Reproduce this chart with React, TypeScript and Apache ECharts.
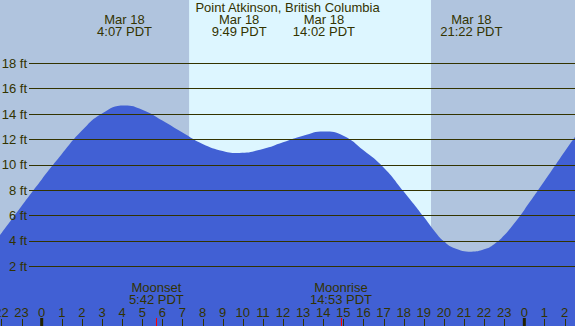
import React, { useEffect, useRef } from "react";
import * as echarts from "echarts";

// Tide height (ft), hours relative to Mar 18 00:00 PDT
const tideHours = [-2.074, -1, 0, 1, 2, 3, 4.117, 5, 6, 7, 8, 9, 9.817, 11, 12, 13, 14.033, 15, 16, 17, 18, 19, 19.5, 20, 20.5, 21.367, 22, 22.5, 23, 23.5, 24, 25, 26, 26.52];
const tideFeet = [4.45, 6.75, 8.85, 10.85, 12.7, 14.05, 14.68, 14.35, 13.5, 12.55, 11.65, 11.1, 10.94, 11.25, 11.78, 12.3, 12.63, 12.3, 11.15, 9.8, 7.9, 5.9, 4.85, 3.97, 3.45, 3.16, 3.34, 3.75, 4.45, 5.4, 6.45, 8.72, 11.04, 12.2];

const extremeHours = [4.117, 9.817, 14.033, 21.367];
const extremeDates = ["Mar 18", "Mar 18", "Mar 18", "Mar 18"];
const extremeTimes = ["4:07 PDT", "9:49 PDT", "14:02 PDT", "21:22 PDT"];

const moonHours = [5.7, 14.883];
const moonNames = ["Moonset", "Moonrise"];
const moonTimes = ["5:42 PDT", "14:53 PDT"];

const sunriseHour = 7.33;
const sunsetHour = 19.36;

const tickHours = [-2, -1, 0, 1, 2, 3, 4, 5, 6, 7, 8, 9, 10, 11, 12, 13, 14, 15, 16, 17, 18, 19, 20, 21, 22, 23, 24, 25, 26];
const tickLabels = ["22", "23", "0", "1", "2", "3", "4", "5", "6", "7", "8", "9", "10", "11", "12", "13", "14", "15", "16", "17", "18", "19", "20", "21", "22", "23", "0", "1", "2"];

const X_MIN = -2.074;
const X_MAX = 26.52;
const Y_MIN = -2.7;
const Y_MAX = 22.99;

const FONT = "'Liberation Sans', Arial, sans-serif";
const TEXT = "#333300";
const NIGHT = "#B0C4DE";
const DAY = "#DDF6FF";
const WATER = "#4160D4";

export default function App() {
  const ref = useRef<HTMLDivElement>(null);
  useEffect(() => {
    document.body.style.margin = "0";
    if (!ref.current) return;
    const chart = echarts.init(ref.current, null, { renderer: "svg" });
    const txt = (text: string, x: number, y: number) => ({
      type: "text",
      x,
      y,
      style: { text, align: "center", verticalAlign: "middle", fontSize: 13, fontFamily: FONT, fill: TEXT },
    });
    chart.setOption({
      animation: false,
      backgroundColor: NIGHT,
      title: {
        text: "Point Atkinson, British Columbia",
        left: "center",
        top: 0,
        padding: [1, 0, 0, 0],
        textStyle: { fontSize: 13, fontWeight: "normal", color: TEXT, fontFamily: FONT },
        z: 20,
      },
      grid: [
        { left: 0, right: 0, top: 0, bottom: 0, outerBoundsMode: "none" },
        { left: 29, right: 0, top: 37.9, bottom: 34.3, outerBoundsMode: "none" },
      ],
      xAxis: [
        { type: "value", gridIndex: 0, min: X_MIN, max: X_MAX, show: false },
        { type: "value", gridIndex: 1, min: 0, max: 1, show: false },
      ],
      yAxis: [
        { type: "value", gridIndex: 0, min: Y_MIN, max: Y_MAX, show: false },
        {
          type: "value",
          gridIndex: 1,
          min: 0,
          max: 20,
          interval: 2,
          z: 5,
          axisLine: { show: false },
          axisTick: { show: false },
          axisLabel: {
            margin: 2,
            showMinLabel: false,
            showMaxLabel: false,
            formatter: (v: number) => `${v} ft`,
            fontSize: 13,
            fontFamily: FONT,
            color: TEXT,
          },
          splitLine: { show: true, showMinLine: false, showMaxLine: false, lineStyle: { color: TEXT, width: 1 } },
        },
      ],
      series: [
        {
          type: "custom",
          xAxisIndex: 0,
          yAxisIndex: 0,
          z: 1,
          data: [[sunriseHour, sunsetHour]],
          renderItem: (params: any, api: any) => {
            const a = api.coord([api.value(0), Y_MAX]);
            const b = api.coord([api.value(1), Y_MIN]);
            return { type: "rect", shape: { x: a[0], y: a[1], width: b[0] - a[0], height: b[1] - a[1] }, style: { fill: DAY } };
          },
        },
        {
          type: "line",
          xAxisIndex: 0,
          yAxisIndex: 0,
          z: 2,
          smooth: 0.5,
          symbol: "none",
          lineStyle: { width: 0 },
          areaStyle: { color: WATER, opacity: 1, origin: "start" },
          data: tideHours.map((h, i) => [h, tideFeet[i]]),
        },
        {
          type: "custom",
          xAxisIndex: 0,
          yAxisIndex: 0,
          z: 10,
          data: extremeHours.map((h, i) => [h, i]),
          renderItem: (params: any, api: any) => {
            const i = api.value(1);
            const x = api.coord([api.value(0), 0])[0];
            const top = params.coordSys.y;
            return { type: "group", children: [txt(extremeDates[i], x, top + 19.7), txt(extremeTimes[i], x, top + 31.7)] };
          },
        },
        {
          type: "custom",
          xAxisIndex: 0,
          yAxisIndex: 0,
          z: 10,
          data: moonHours.map((h, i) => [h, i]),
          renderItem: (params: any, api: any) => {
            const i = api.value(1);
            const p = api.coord([api.value(0), Y_MIN]);
            const x = Math.round(p[0]) + 0.5;
            return {
              type: "group",
              children: [
                txt(moonNames[i], p[0], p[1] - 38.3),
                txt(moonTimes[i], p[0], p[1] - 26.7),
                { type: "line", shape: { x1: x, y1: p[1] - 8, x2: x, y2: p[1] }, style: { stroke: "#FF0000", lineWidth: 1 } },
              ],
            };
          },
        },
        {
          type: "custom",
          xAxisIndex: 0,
          yAxisIndex: 0,
          z: 9,
          data: tickHours.map((h, i) => [h, i]),
          renderItem: (params: any, api: any) => {
            const i = api.value(1);
            const p = api.coord([api.value(0), Y_MIN]);
            const midnight = tickLabels[i] === "0";
            const x = midnight ? p[0] : Math.round(p[0]) + 0.5;
            return {
              type: "group",
              children: [
                txt(tickLabels[i], p[0], p[1] - 14),
                {
                  type: "line",
                  shape: { x1: x, y1: p[1] - (midnight ? 8 : 7), x2: x, y2: p[1] },
                  style: { stroke: midnight ? "#222200" : TEXT, lineWidth: midnight ? 3 : 1 },
                },
              ],
            };
          },
        },
      ],
    });
    return () => chart.dispose();
  }, []);
  return <div ref={ref} style={{ width: 575, height: 326 }} />;
}
